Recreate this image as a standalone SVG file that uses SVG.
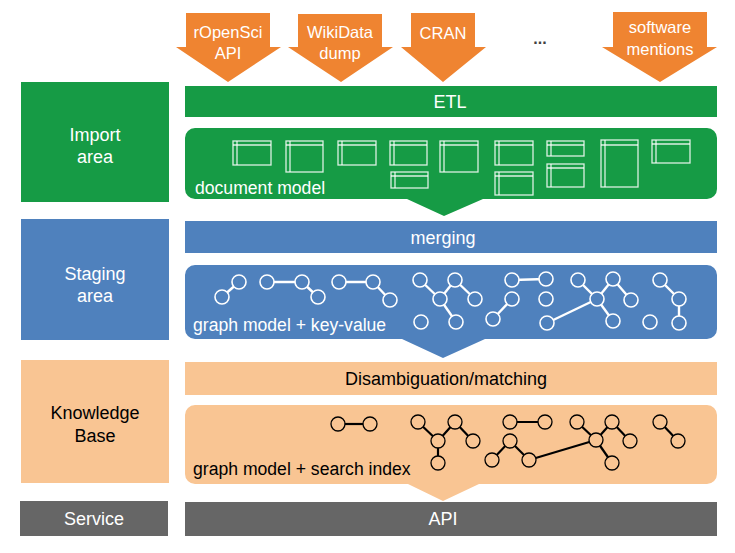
<svg xmlns="http://www.w3.org/2000/svg" width="735" height="553" viewBox="0 0 735 553">
<style>
text{font-family:"Liberation Sans",Arial,sans-serif;font-size:18px;text-anchor:middle}
.w{fill:#fff}
.k{fill:#000}
.lbl{text-anchor:start;font-size:17.6px}
.arr{fill:#EF8431}
.at{font-size:16.5px;fill:#fff}
.green{fill:#169B45}
.blue{fill:#4F81BD}
.peach{fill:#F9C593}
.gray{fill:#666666}
.doc rect,.doc line{fill:none;stroke:#fff;stroke-width:1.3;stroke-opacity:0.85}
.gw circle{fill:#4F81BD;stroke:#fff;stroke-width:1.6}
.gw line{stroke:#fff;stroke-width:2.4}
.gk circle{fill:#F9C593;stroke:#000;stroke-width:1.3}
.gk line{stroke:#000;stroke-width:2.2}
</style>

<!-- Left column labels -->
<g id="import-area"><rect class="green" x="21" y="82" width="148" height="120"/><text class="w" x="95" y="141">Import</text><text class="w" x="95" y="163">area</text></g>
<g id="staging-area"><rect class="blue" x="21" y="219" width="148" height="121"/><text class="w" x="95" y="280">Staging</text><text class="w" x="95" y="302">area</text></g>
<g id="knowledge-base"><rect class="peach" x="21" y="360" width="148" height="123"/><text class="k" x="95" y="419">Knowledge</text><text class="k" x="95" y="442">Base</text></g>
<g id="service"><rect class="gray" x="20" y="501" width="148" height="35"/><text class="w" x="94" y="525">Service</text></g>

<!-- Source arrows -->
<g id="src-ropensci"><polygon class="arr" points="186,13 270,13 270,47 281,47 228,82 176,47 186,47"/><text class="at" x="228" y="38">rOpenSci</text><text class="at" x="228" y="59">API</text></g>
<g id="src-wikidata"><polygon class="arr" points="298,14 382,14 382,47 393,47 341,82 288,47 298,47"/><text class="at" x="340" y="38">WikiData</text><text class="at" x="340" y="59">dump</text></g>
<g id="src-cran"><polygon class="arr" points="411,13 475,13 475,47 486,47 443,82 401,47 411,47"/><text class="at" x="443" y="39">CRAN</text></g>
<g id="src-more"><text x="540" y="44" style="fill:#404040;font-weight:bold;font-size:16px">...</text></g>
<g id="src-software"><polygon class="arr" points="613,12 707,12 707,47 717,47 660,82 602,47 613,47"/><text class="at" x="660" y="33">software</text><text class="at" x="660" y="55">mentions</text></g>

<!-- Bars -->
<g id="etl"><rect class="green" x="185" y="86" width="532" height="31"/><text class="w" x="450" y="108">ETL</text></g>
<g id="merging"><rect class="blue" x="185" y="221" width="532" height="32"/><text class="w" x="443" y="244">merging</text></g>
<g id="disambiguation"><rect class="peach" x="185" y="362" width="532" height="33"/><text class="k" x="446" y="385">Disambiguation/matching</text></g>
<g id="api"><rect class="gray" x="185" y="502" width="532" height="34"/><text class="w" x="443" y="525">API</text></g>

<!-- Document model -->
<g id="document-model">
<path class="green" d="M195,128 H707 A10,10 0 0 1 717,138 V189 A10,10 0 0 1 707,199 H483 L444,216 L407,199 H195 A10,10 0 0 1 185,189 V138 A10,10 0 0 1 195,128 Z"/>
<g class="doc">
<rect x="233" y="141" width="38" height="24"/><line x1="237" y1="141" x2="237" y2="165"/><line x1="233" y1="145" x2="271" y2="145"/>
<rect x="286" y="141" width="37" height="31"/><line x1="290" y1="141" x2="290" y2="172"/><line x1="286" y1="145" x2="323" y2="145"/>
<rect x="338" y="141" width="38" height="24"/><line x1="342" y1="141" x2="342" y2="165"/><line x1="338" y1="145" x2="376" y2="145"/>
<rect x="390" y="141" width="37" height="24"/><line x1="394" y1="141" x2="394" y2="165"/><line x1="390" y1="145" x2="427" y2="145"/>
<rect x="391" y="172" width="37" height="16"/><line x1="395" y1="172" x2="395" y2="188"/><line x1="391" y1="176" x2="428" y2="176"/>
<rect x="440" y="141" width="38" height="31"/><line x1="444" y1="141" x2="444" y2="172"/><line x1="440" y1="145" x2="478" y2="145"/>
<rect x="495" y="141" width="38" height="24"/><line x1="499" y1="141" x2="499" y2="165"/><line x1="495" y1="145" x2="533" y2="145"/>
<rect x="495" y="172" width="38" height="23"/><line x1="499" y1="172" x2="499" y2="195"/><line x1="495" y1="176" x2="533" y2="176"/>
<rect x="547" y="141" width="37" height="15"/><line x1="551" y1="141" x2="551" y2="156"/><line x1="547" y1="145" x2="584" y2="145"/>
<rect x="547" y="164" width="37" height="23"/><line x1="551" y1="164" x2="551" y2="187"/><line x1="547" y1="168" x2="584" y2="168"/>
<rect x="601" y="140" width="37" height="47"/><line x1="605" y1="140" x2="605" y2="187"/><line x1="601" y1="145" x2="638" y2="145"/>
<rect x="652" y="140" width="38" height="23"/><line x1="656" y1="140" x2="656" y2="163"/><line x1="652" y1="144" x2="690" y2="144"/>
</g>
<text class="w lbl" x="195" y="194">document model</text>
</g>

<!-- Graph model + key-value -->
<g id="graph-model-kv">
<path class="blue" d="M195,265 H707 A10,10 0 0 1 717,275 V329 A10,10 0 0 1 707,339 H485 L443,358 L402,339 H195 A10,10 0 0 1 185,329 V275 A10,10 0 0 1 195,265 Z"/>
<g class="gw">
<line x1="239" y1="282" x2="222" y2="297"/>
<line x1="267" y1="282" x2="302" y2="282"/><line x1="302" y1="282" x2="318" y2="297"/>
<line x1="339" y1="282" x2="373" y2="282"/><line x1="373" y1="282" x2="390" y2="300"/>
<line x1="420" y1="280" x2="440" y2="299"/><line x1="440" y1="299" x2="455" y2="280"/><line x1="455" y1="280" x2="475" y2="299"/><line x1="440" y1="299" x2="456" y2="322"/>
<line x1="512" y1="280" x2="546" y2="279"/>
<line x1="512" y1="299" x2="493" y2="319"/>
<line x1="547" y1="323" x2="597" y2="299"/>
<line x1="578" y1="280" x2="597" y2="299"/><line x1="597" y1="299" x2="613" y2="279"/><line x1="613" y1="279" x2="631" y2="300"/><line x1="597" y1="299" x2="613" y2="321"/>
<line x1="660" y1="280" x2="679" y2="299"/><line x1="679" y1="299" x2="679" y2="323"/>
<circle cx="239" cy="282" r="7"/><circle cx="222" cy="297" r="7"/>
<circle cx="267" cy="282" r="7"/><circle cx="302" cy="282" r="7"/><circle cx="318" cy="297" r="7"/>
<circle cx="339" cy="282" r="7"/><circle cx="373" cy="282" r="7"/><circle cx="390" cy="300" r="7"/>
<circle cx="420" cy="280" r="7"/><circle cx="440" cy="299" r="7"/><circle cx="455" cy="280" r="7"/><circle cx="475" cy="299" r="7"/><circle cx="456" cy="322" r="7"/><circle cx="421" cy="322" r="7"/>
<circle cx="512" cy="280" r="7"/><circle cx="546" cy="279" r="7"/>
<circle cx="512" cy="299" r="7"/><circle cx="493" cy="319" r="7"/>
<circle cx="546" cy="299" r="7"/>
<circle cx="547" cy="323" r="7"/><circle cx="597" cy="299" r="7"/>
<circle cx="578" cy="280" r="7"/><circle cx="613" cy="279" r="7"/><circle cx="631" cy="300" r="7"/><circle cx="613" cy="321" r="7"/>
<circle cx="660" cy="280" r="7"/><circle cx="679" cy="299" r="7"/><circle cx="679" cy="323" r="7"/>
<circle cx="650" cy="322" r="7"/>
</g>
<text class="w lbl" x="193" y="331">graph model + key-value</text>
</g>

<!-- Graph model + search index -->
<g id="graph-model-search">
<path class="peach" d="M195,405 H707 A10,10 0 0 1 717,415 V474 A10,10 0 0 1 707,484 H479 L443,501 L408,484 H195 A10,10 0 0 1 185,474 V415 A10,10 0 0 1 195,405 Z"/>
<g class="gk">
<line x1="338" y1="424" x2="370" y2="424"/>
<line x1="418" y1="422" x2="438" y2="441"/><line x1="438" y1="441" x2="455" y2="422"/><line x1="455" y1="422" x2="473" y2="441"/><line x1="438" y1="441" x2="438" y2="463"/>
<line x1="510" y1="422" x2="545" y2="422"/>
<line x1="510" y1="441" x2="492" y2="460"/><line x1="510" y1="441" x2="529" y2="460"/>
<line x1="529" y1="460" x2="596" y2="440"/>
<line x1="577" y1="422" x2="596" y2="440"/><line x1="596" y1="440" x2="612" y2="422"/><line x1="612" y1="422" x2="630" y2="441"/><line x1="596" y1="440" x2="612" y2="463"/>
<line x1="660" y1="422" x2="678" y2="441"/>
<circle cx="338" cy="424" r="7"/><circle cx="370" cy="424" r="7"/>
<circle cx="418" cy="422" r="7"/><circle cx="438" cy="441" r="7"/><circle cx="455" cy="422" r="7"/><circle cx="473" cy="441" r="7"/><circle cx="438" cy="463" r="7"/>
<circle cx="510" cy="422" r="7"/><circle cx="545" cy="422" r="7"/>
<circle cx="510" cy="441" r="7"/><circle cx="492" cy="460" r="7"/><circle cx="529" cy="460" r="7"/>
<circle cx="596" cy="440" r="7"/><circle cx="577" cy="422" r="7"/><circle cx="612" cy="422" r="7"/><circle cx="630" cy="441" r="7"/><circle cx="612" cy="463" r="7"/>
<circle cx="660" cy="422" r="7"/><circle cx="678" cy="441" r="7"/>
</g>
<text class="k lbl" x="193" y="475">graph model + search index</text>
</g>

<g id="connectors"></g>
</svg>
